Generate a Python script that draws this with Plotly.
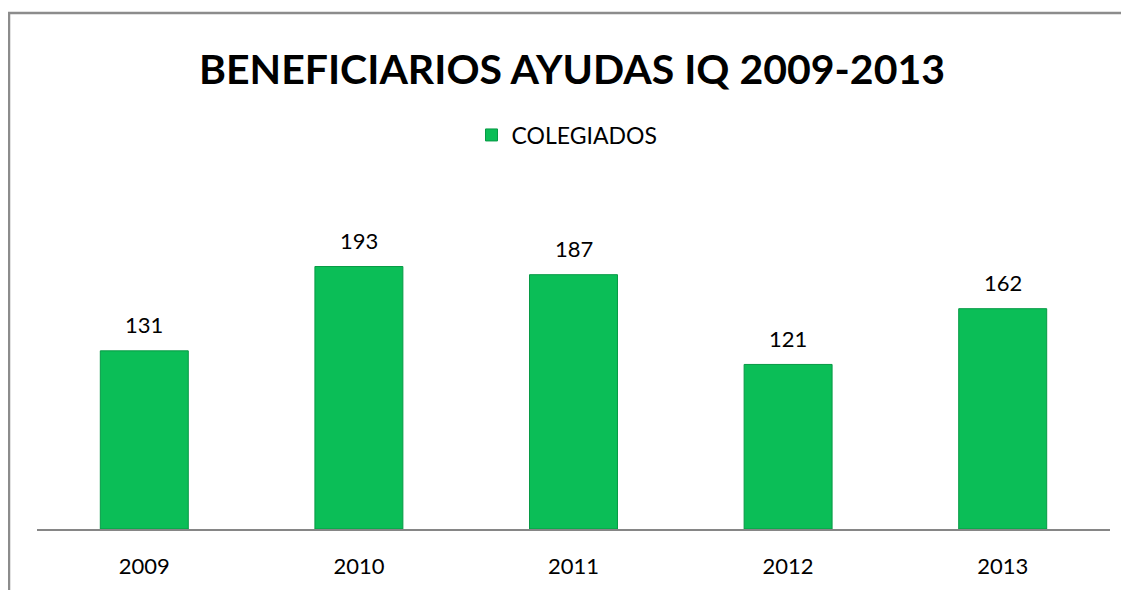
import plotly.graph_objects as go

years = ["2009", "2010", "2011", "2012", "2013"]
colegiados = [131, 193, 187, 121, 162]
title_text = "BENEFICIARIOS AYUDAS IQ 2009-2013"
series_name = "COLEGIADOS"

# page body adds an 8px margin; figure is sized to fit the 1129x590 window
W, H = 1121, 582
L, R, T, B = 29, 19, 181, 61
pw, ph = W - L - R, H - T - B
FONT = "Lato, Carlito, Calibri, sans-serif"

def px2x(px):
    return (px - L) / pw

def px2y(py):
    return (H - B - py) / ph

fig = go.Figure()
fig.add_trace(go.Bar(
    x=years, y=colegiados, name=series_name,
    marker=dict(color="#0BBE57", line=dict(color="#079A45", width=1)),
    showlegend=True,
))

for i, v in enumerate(colegiados):
    fig.add_annotation(x=i, y=v, xref="x", yref="y", text=str(v), showarrow=False,
                       yshift=26, yanchor="middle",
                       font=dict(family=FONT, size=22, color="#000000"))

fig.add_shape(type="rect", xref="paper", yref="paper",
              x0=px2x(1), x1=px2x(1140), y0=px2y(5), y1=px2y(620),
              line=dict(color="#8C8C8C", width=2.5), layer="below")

fig.update_layout(
    width=W, height=H,
    margin=dict(l=L, r=R, t=T, b=B),
    paper_bgcolor="white", plot_bgcolor="white",
    title=dict(text="<b>" + title_text + "</b>", x=564 / W, xanchor="center",
               y=1 - 62 / H, yanchor="middle", yref="container",
               font=dict(family=FONT, size=41, color="#000000")),
    bargap=0.59,
    showlegend=True,
    legend=dict(orientation="h", x=px2x(559), xanchor="center", y=px2y(127), yanchor="middle",
                font=dict(family=FONT, size=23, color="#000000"),
                bgcolor="rgba(0,0,0,0)"),
    xaxis=dict(type="category", categoryorder="array", categoryarray=years,
               range=[-0.5, len(years) - 0.5], autorange=False,
               showline=True, linecolor="#868686", linewidth=2,
               showgrid=False, zeroline=False,
               ticks="outside", ticklen=17, tickcolor="rgba(0,0,0,0)",
               tickfont=dict(family=FONT, size=22, color="#000000")),
    yaxis=dict(range=[0, 250], autorange=False, visible=False, showgrid=False, zeroline=False),
    font=dict(family=FONT),
)

fig.write_html("out.html")
